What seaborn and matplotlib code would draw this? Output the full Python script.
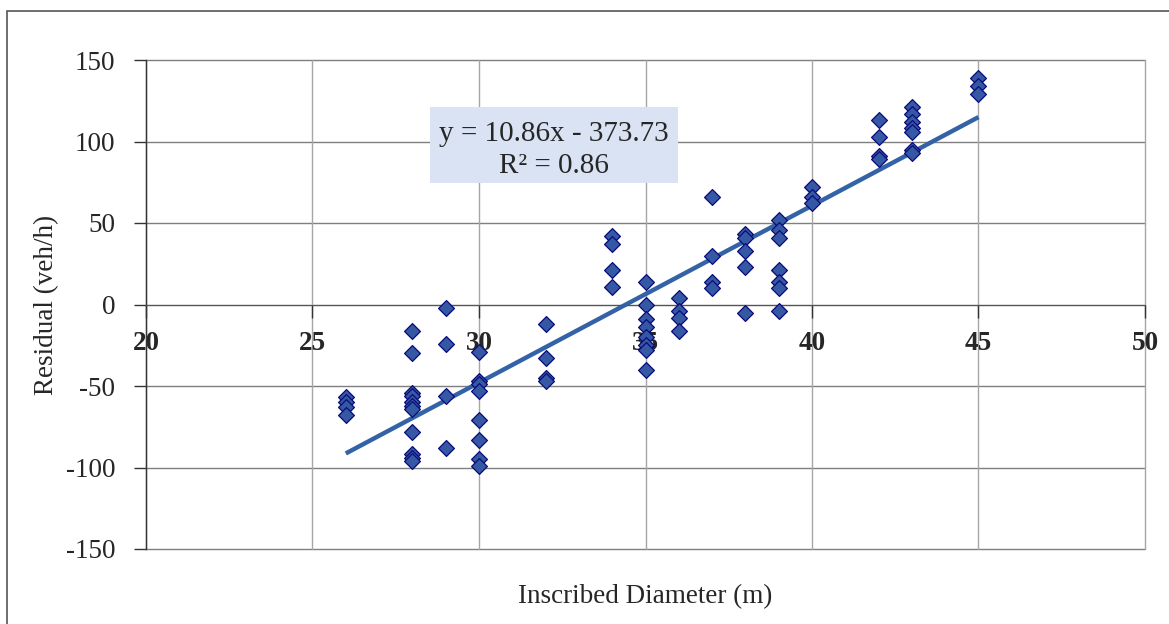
import numpy as np
import pandas as pd
import matplotlib
matplotlib.use("Agg")
import matplotlib.pyplot as plt
from matplotlib.patches import Rectangle
import seaborn as sns

# diameter (m) -> residuals (veh/h)
d26 = [-57, -60, -63, -68]
d28 = [-16, -30, -54, -56, -60, -62, -64, -78, -92, -94, -96]
d29 = [-2, -24, -56, -88]
d30 = [-29, -47, -49, -53, -71, -83, -95, -99]
d32 = [-12, -33, -45, -47]
d34 = [42, 37, 21, 11]
d35 = [14, 0, -9, -14, -20, -25, -28, -40]
d36 = [4, -4, -8, -16]
d37 = [66, 30, 14, 10]
d38 = [43, 41, 33, 23, -5]
d39 = [52, 46, 41, 21, 14, 10, -4]
d40 = [72, 66, 62]
d42 = [113, 103, 91, 89]
d43 = [121, 117, 112, 108, 106, 95, 93]
d45 = [139, 134, 129]

groups = {26: d26, 28: d28, 29: d29, 30: d30, 32: d32, 34: d34, 35: d35, 36: d36,
          37: d37, 38: d38, 39: d39, 40: d40, 42: d42, 43: d43, 45: d45}

slope = 10.86
intercept = -373.73
r2 = 0.86

x_ticks = [20, 25, 30, 35, 40, 45, 50]
y_ticks = [-150, -100, -50, 0, 50, 100, 150]

df = pd.DataFrame([(d, r) for d, vals in groups.items() for r in vals],
                  columns=["diameter", "residual"])

sns.set_style("white")
plt.rcParams["font.family"] = ["Liberation Serif", "DejaVu Serif"]
plt.rcParams["axes.unicode_minus"] = False

fig = plt.figure(figsize=(11.69, 6.24), dpi=100)
ax = fig.add_axes([146 / 1169, 1 - 549 / 624, 999 / 1169, 489 / 624])

# outer chart frame
fig.patches.append(Rectangle((7 / 1169, -0.1), 1.2, 1 - 11 / 624 + 0.1,
                             transform=fig.transFigure, fill=False,
                             edgecolor="#555555", linewidth=1.2))

for y in y_ticks:
    ax.axhline(y, color="#7f7f7f", linewidth=1.0, zorder=0, clip_on=False)
for x in x_ticks:
    ax.axvline(x, color="#a6a6a6", linewidth=1.0, zorder=0, clip_on=False)

xs = np.array([df["diameter"].min(), df["diameter"].max()])
ax.plot(xs, slope * xs + intercept, color="#3363A6", linewidth=3.2,
        solid_capstyle="butt", zorder=2)

sns.scatterplot(data=df, x="diameter", y="residual", marker="D", s=65,
                color="#3558A5", edgecolor="#0B0B7A", linewidth=0.9,
                ax=ax, zorder=3, legend=False)

ax.set_xlim(20, 50)
ax.set_ylim(-150, 150)
ax.set_xticks(x_ticks)
ax.set_yticks(y_ticks)

for s in ["top", "right"]:
    ax.spines[s].set_visible(False)
ax.spines["bottom"].set_position(("data", 0))
ax.spines["bottom"].set_color("#555555")
ax.spines["left"].set_color("#333333")
ax.spines["left"].set_linewidth(1.0)

ax.tick_params(axis="y", direction="out", length=9, width=1, pad=13,
               labelsize=19.5, color="#333333", left=True)
ax.tick_params(axis="x", direction="out", length=9, width=1, pad=10,
               labelsize=19.5, color="#333333", bottom=True)
for lab in ax.get_xticklabels():
    lab.set_fontweight("bold")

ax.set_xlabel("Inscribed Diameter (m)", fontsize=19.5)
ax.xaxis.set_label_coords(0.5, -0.072)
ax.set_ylabel("Residual (veh/h)", fontsize=19.5)
ax.yaxis.set_label_coords(-0.099, 0.5)
ax.yaxis.label.set_va("center")

# equation box
ax.add_patch(Rectangle((28.53, 74.4), 7.44, 46.7, facecolor="#DAE3F3",
                       edgecolor="none", zorder=4))
ax.text(32.25, 94.5, f"y = {slope:.2f}x - {abs(intercept):.2f}\nR² = {r2:.2f}",
        ha="center", va="center", multialignment="center", fontsize=21,
        linespacing=1.3, zorder=5)

fig.savefig("out.png", dpi=100)
